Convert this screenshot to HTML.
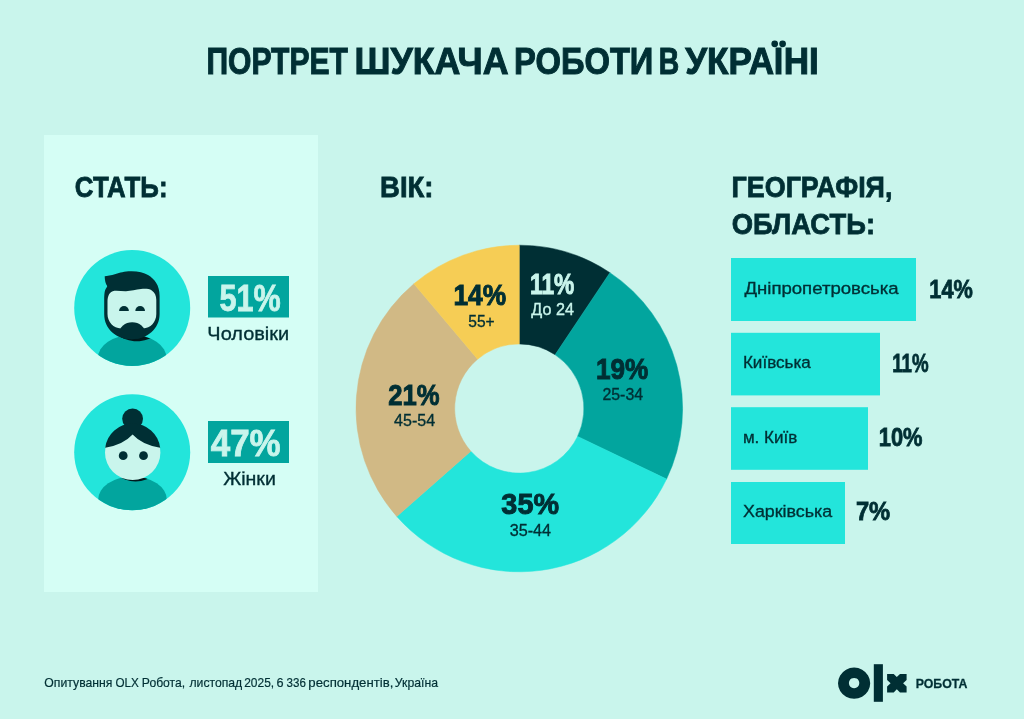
<!DOCTYPE html>
<html><head><meta charset="utf-8">
<style>
html,body{margin:0;padding:0;background:#C9F5EC;}
body{width:1024px;height:719px;overflow:hidden;position:relative;font-family:"Liberation Sans",sans-serif;}
svg{position:absolute;left:0;top:0;display:block;will-change:transform;}
text{font-family:"Liberation Sans",sans-serif;}
.b{font-weight:bold;}
</style></head><body>
<svg width="1024" height="719" viewBox="0 0 1024 719">
<rect x="0" y="0" width="1024" height="719" fill="#C9F5EC"/>
<!-- title -->
<text id="t1" class="b" x="206.43" y="74.02" font-size="36.02" fill="#002F34" stroke="#002F34" stroke-width="1.0" textLength="141.53" lengthAdjust="spacingAndGlyphs">ПОРТРЕТ</text>
<text id="t2" class="b" x="354.43" y="74.02" font-size="36.02" fill="#002F34" stroke="#002F34" stroke-width="1.0" textLength="154.19" lengthAdjust="spacingAndGlyphs">ШУКАЧА</text>
<text id="t3" class="b" x="514.09" y="74.02" font-size="36.02" fill="#002F34" stroke="#002F34" stroke-width="1.0" textLength="139.31" lengthAdjust="spacingAndGlyphs">РОБОТИ</text>
<text id="t4" class="b" x="658.86" y="74.02" font-size="36.02" fill="#002F34" stroke="#002F34" stroke-width="1.0" textLength="20.46" lengthAdjust="spacingAndGlyphs">В</text>
<text id="t5" class="b" x="685.27" y="74.02" font-size="36.02" fill="#002F34" stroke="#002F34" stroke-width="1.0" textLength="88.93" lengthAdjust="spacingAndGlyphs">УКРА</text>
<text id="t6" class="b" x="773.71" y="74.02" font-size="36.02" fill="#002F34" stroke="#002F34" stroke-width="1.0" textLength="9.59" lengthAdjust="spacingAndGlyphs">І</text>
<text id="t7" class="b" x="783.67" y="74.02" font-size="36.02" fill="#002F34" stroke="#002F34" stroke-width="1.0" textLength="35.13" lengthAdjust="spacingAndGlyphs">НІ</text>
<circle cx="774.7" cy="43.85" r="3.35" fill="#002F34"/>
<circle cx="782.6" cy="43.85" r="3.35" fill="#002F34"/>

<!-- left panel -->
<rect x="44" y="135" width="274" height="457" fill="#D5FEF5"/>
<text id="h1" class="b" x="74.87" y="197.02" font-size="30.2" fill="#002F34" stroke="#002F34" stroke-width="0.8" textLength="92.66" lengthAdjust="spacingAndGlyphs">СТАТЬ:</text>

<!-- man avatar -->
<defs>
<clipPath id="c1"><circle cx="132.2" cy="308" r="58"/></clipPath>
<clipPath id="c2"><circle cx="132.2" cy="452.3" r="58"/></clipPath>
<clipPath id="b1"><ellipse cx="132.2" cy="358" rx="34.3" ry="23"/></clipPath>
<clipPath id="b2"><ellipse cx="132.5" cy="499.6" rx="34.3" ry="23"/></clipPath>
</defs>
<circle cx="132.2" cy="308" r="58" fill="#23E5DB"/>
<g clip-path="url(#c1)">
<ellipse cx="132.2" cy="358" rx="34.3" ry="23" fill="#02A59E"/>
</g>
<clipPath id="hd"><path d="M104.7,276.3 C107,276.2 111,275.5 115.6,274.1 C120,272.6 124,271.2 131,271.2 C138,271.1 144,272.5 148,275 C154.5,279 159.6,285 159.6,296 L159.6,314 C159.6,329 147,339.2 131.8,339.2 C116,339.2 104.2,329 104.2,314 L104.2,300 C104.2,293.5 104.8,290.5 105.8,288.8 C106.5,287.6 107.2,286.5 107.2,286 C105.7,284 104.7,280.5 104.7,276.3 Z"/></clipPath>
<g clip-path="url(#b1)"><path d="M109.5,318 C109.5,331 121.5,341.3 136.8,341.3 C152,341.3 164.1,331 164.1,318 Z" fill="#001A1D"/></g>
<path d="M104.7,276.3 C107,276.2 111,275.5 115.6,274.1 C120,272.6 124,271.2 131,271.2 C138,271.1 144,272.5 148,275 C154.5,279 159.6,285 159.6,296 L159.6,314 C159.6,329 147,339.2 131.8,339.2 C116,339.2 104.2,329 104.2,314 L104.2,300 C104.2,293.5 104.8,290.5 105.8,288.8 C106.5,287.6 107.2,286.5 107.2,286 C105.7,284 104.7,280.5 104.7,276.3 Z" fill="#002F34"/>
<path d="M107.5,302 C107.5,296 109.5,291.4 114.4,290.8 C118,290.5 122,291.3 126,291.2 C131,291 136,289.6 141,289 C145,288.6 149,288.7 151.8,290.4 C154.7,292.2 156.3,295.5 156.3,300 L156.3,314 C156.3,322 150.5,328.4 143,328.4 L121,328.4 C113.5,328.4 107.5,322 107.5,314 Z" fill="#C9F5EC"/>
<g clip-path="url(#hd)"><ellipse cx="132.2" cy="333.3" rx="13" ry="11.1" fill="#002F34"/></g>
<path d="M119.1,310.9 A4.9,4.9 0 0 1 128.9,310.9 Z" fill="#002F34"/>
<path d="M135.3,310.9 A4.85,4.85 0 0 1 145,310.9 Z" fill="#002F34"/>

<!-- woman avatar -->
<circle cx="132.2" cy="452.3" r="58" fill="#23E5DB"/>
<g clip-path="url(#c2)">
<ellipse cx="132.5" cy="499.6" rx="34.3" ry="23" fill="#02A59E"/>
</g>
<g clip-path="url(#b2)"><circle cx="135.6" cy="453.9" r="27.7" fill="#001A1D"/></g>
<circle cx="132.6" cy="418.8" r="10.4" fill="#002F34"/>
<circle cx="132.7" cy="452.4" r="27.7" fill="#C9F5EC"/>
<path d="M105.2,447.8 A27.7,27.7 0 0 1 160.2,447.8 Q142,444.8 132.6,434.5 Q123.2,444.8 105.2,447.8 Z" fill="#002F34"/>
<circle cx="123.2" cy="455.7" r="4.4" fill="#002F34"/>
<circle cx="143.5" cy="455.7" r="4.4" fill="#002F34"/>

<!-- percent boxes -->
<rect x="208" y="276" width="81" height="41.5" fill="#02A59E"/>
<text id="p51" class="b" x="219.41" y="310.52" font-size="36.1" fill="#C9F5EC" stroke="#C9F5EC" stroke-width="0.8" textLength="61.20" lengthAdjust="spacingAndGlyphs">51%</text>
<text id="l51" x="207.33" y="339.52" font-size="19.2" fill="#002F34" stroke="#002F34" stroke-width="0.35" textLength="81.87" lengthAdjust="spacingAndGlyphs">Чоловіки</text>
<rect x="208" y="421" width="81" height="42" fill="#02A59E"/>
<text id="p47" class="b" x="210.77" y="455.82" font-size="36.1" fill="#C9F5EC" stroke="#C9F5EC" stroke-width="0.8" textLength="69.93" lengthAdjust="spacingAndGlyphs">47%</text>
<text id="l47" x="223.16" y="484.70" font-size="19.2" fill="#002F34" stroke="#002F34" stroke-width="0.35" textLength="52.67" lengthAdjust="spacingAndGlyphs">Жінки</text>

<!-- age heading -->
<text id="h2" class="b" x="380.12" y="197.02" font-size="30.2" fill="#002F34" stroke="#002F34" stroke-width="0.8" textLength="53.42" lengthAdjust="spacingAndGlyphs">ВІК:</text>

<!-- geo heading -->
<text id="h3a" class="b" x="731.56" y="196.72" font-size="30.2" fill="#002F34" stroke="#002F34" stroke-width="0.8" textLength="160.85" lengthAdjust="spacingAndGlyphs">ГЕОГРАФІЯ,</text>
<text id="h3b" class="b" x="731.76" y="233.82" font-size="30.2" fill="#002F34" stroke="#002F34" stroke-width="0.8" textLength="143.27" lengthAdjust="spacingAndGlyphs">ОБЛАСТЬ:</text>

<!-- bars -->
<rect x="731" y="258" width="185" height="63" fill="#23E5DB"/>
<rect x="731" y="332.8" width="149" height="62.6" fill="#23E5DB"/>
<rect x="731" y="407.2" width="137" height="62.6" fill="#23E5DB"/>
<rect x="731" y="482" width="114" height="62" fill="#23E5DB"/>
<text id="g1" x="744.43" y="293.75" font-size="17.1" fill="#002F34" stroke="#002F34" stroke-width="0.35" textLength="154.14" lengthAdjust="spacingAndGlyphs">Дніпропетровська</text>
<text id="g2" x="742.91" y="368.30" font-size="17.1" fill="#002F34" stroke="#002F34" stroke-width="0.35" textLength="67.91" lengthAdjust="spacingAndGlyphs">Київська</text>
<text id="g3" x="742.90" y="442.80" font-size="17.1" fill="#002F34" stroke="#002F34" stroke-width="0.35" textLength="54.33" lengthAdjust="spacingAndGlyphs">м. Київ</text>
<text id="g4" x="743.01" y="517.30" font-size="17.1" fill="#002F34" stroke="#002F34" stroke-width="0.35" textLength="89.12" lengthAdjust="spacingAndGlyphs">Харківська</text>
<text id="v1" class="b" x="929.36" y="297.52" font-size="25.2" fill="#002F34" stroke="#002F34" stroke-width="0.8" textLength="43.49" lengthAdjust="spacingAndGlyphs">14%</text>
<text id="v2" class="b" x="892.15" y="371.92" font-size="25.2" fill="#002F34" stroke="#002F34" stroke-width="0.8" textLength="36.40" lengthAdjust="spacingAndGlyphs">11%</text>
<text id="v3" class="b" x="878.75" y="446.22" font-size="25.2" fill="#002F34" stroke="#002F34" stroke-width="0.8" textLength="43.79" lengthAdjust="spacingAndGlyphs">10%</text>
<text id="v4" class="b" x="855.91" y="520.22" font-size="25.2" fill="#002F34" stroke="#002F34" stroke-width="0.8" textLength="34.28" lengthAdjust="spacingAndGlyphs">7%</text>

<!-- donut -->
<g id="donut">
<path d="M519.30,245.20 A163.3,163.3 0 0 1 609.91,272.64 L555.14,354.76 A64.6,64.6 0 0 0 519.30,343.90 Z" fill="#002F34" stroke="#002F34" stroke-width="0.5" stroke-linejoin="round"/>
<path d="M609.91,272.64 A163.3,163.3 0 0 1 666.57,479.06 L577.56,436.41 A64.6,64.6 0 0 0 555.14,354.76 Z" fill="#02A59E" stroke="#02A59E" stroke-width="0.5" stroke-linejoin="round"/>
<path d="M666.57,479.06 A163.3,163.3 0 0 1 396.81,516.49 L470.84,451.22 A64.6,64.6 0 0 0 577.56,436.41 Z" fill="#23E5DB" stroke="#23E5DB" stroke-width="0.5" stroke-linejoin="round"/>
<path d="M396.81,516.49 A163.3,163.3 0 0 1 413.90,283.77 L477.60,359.16 A64.6,64.6 0 0 0 470.84,451.22 Z" fill="#D1B985" stroke="#D1B985" stroke-width="0.5" stroke-linejoin="round"/>
<path d="M413.90,283.77 A163.3,163.3 0 0 1 519.30,245.20 L519.30,343.90 A64.6,64.6 0 0 0 477.60,359.16 Z" fill="#F6CD55" stroke="#F6CD55" stroke-width="0.5" stroke-linejoin="round"/>
</g>

<text id="d11" class="b" x="530.04" y="294.22" font-size="30.3" fill="#C9F5EC" stroke="#C9F5EC" stroke-width="1.0" textLength="44.30" lengthAdjust="spacingAndGlyphs">11%</text>
<text id="d11s" x="531.35" y="315.20" font-size="16.5" fill="#C9F5EC" stroke="#C9F5EC" stroke-width="0.35" textLength="42.57" lengthAdjust="spacingAndGlyphs">До 24</text>
<text id="d14" class="b" x="453.44" y="304.92" font-size="30.3" fill="#002F34" stroke="#002F34" stroke-width="1.0" textLength="52.68" lengthAdjust="spacingAndGlyphs">14%</text>
<text id="d14s" x="468.31" y="327.00" font-size="16.5" fill="#002F34" stroke="#002F34" stroke-width="0.35" textLength="26.41" lengthAdjust="spacingAndGlyphs">55+</text>
<text id="d19" class="b" x="595.91" y="378.82" font-size="30.3" fill="#002F34" stroke="#002F34" stroke-width="1.0" textLength="52.41" lengthAdjust="spacingAndGlyphs">19%</text>
<text id="d19s" x="602.42" y="399.90" font-size="16.5" fill="#002F34" stroke="#002F34" stroke-width="0.35" textLength="40.66" lengthAdjust="spacingAndGlyphs">25-34</text>
<text id="d21" class="b" x="388.27" y="404.52" font-size="30.3" fill="#002F34" stroke="#002F34" stroke-width="1.0" textLength="51.32" lengthAdjust="spacingAndGlyphs">21%</text>
<text id="d21s" x="394.12" y="426.30" font-size="16.5" fill="#002F34" stroke="#002F34" stroke-width="0.35" textLength="41.07" lengthAdjust="spacingAndGlyphs">45-54</text>
<text id="d35" class="b" x="501.37" y="513.92" font-size="30.3" fill="#002F34" stroke="#002F34" stroke-width="1.0" textLength="57.64" lengthAdjust="spacingAndGlyphs">35%</text>
<text id="d35s" x="509.72" y="535.60" font-size="16.5" fill="#002F34" stroke="#002F34" stroke-width="0.35" textLength="41.38" lengthAdjust="spacingAndGlyphs">35-44</text>

<!-- footer -->
<text id="f1" x="44.33" y="686.50" font-size="13.48" fill="#002F34" stroke="#002F34" stroke-width="0.2" textLength="68.15" lengthAdjust="spacingAndGlyphs">Опитування</text>
<text id="f2" x="115.52" y="686.50" font-size="13.48" fill="#002F34" stroke="#002F34" stroke-width="0.2" textLength="23.37" lengthAdjust="spacingAndGlyphs">OLX</text>
<text id="f3" x="141.84" y="686.50" font-size="13.48" fill="#002F34" stroke="#002F34" stroke-width="0.2" textLength="43.36" lengthAdjust="spacingAndGlyphs">Робота,</text>
<text id="f4" x="189.46" y="686.50" font-size="13.48" fill="#002F34" stroke="#002F34" stroke-width="0.2" textLength="52.80" lengthAdjust="spacingAndGlyphs">листопад</text>
<text id="f5" x="244.20" y="686.50" font-size="13.48" fill="#002F34" stroke="#002F34" stroke-width="0.2" textLength="29.92" lengthAdjust="spacingAndGlyphs">2025,</text>
<text id="f6" x="276.59" y="686.50" font-size="13.48" fill="#002F34" stroke="#002F34" stroke-width="0.2" textLength="7.07" lengthAdjust="spacingAndGlyphs">6</text>
<text id="f7" x="286.54" y="686.50" font-size="13.48" fill="#002F34" stroke="#002F34" stroke-width="0.2" textLength="19.29" lengthAdjust="spacingAndGlyphs">336</text>
<text id="f8" x="308.36" y="686.50" font-size="13.48" fill="#002F34" stroke="#002F34" stroke-width="0.2" textLength="85.00" lengthAdjust="spacingAndGlyphs">респондентів,</text>
<text id="f9" x="394.81" y="686.50" font-size="13.48" fill="#002F34" stroke="#002F34" stroke-width="0.2" textLength="43.23" lengthAdjust="spacingAndGlyphs">Україна</text>

<!-- logo -->
<path d="M854.1,667.6 a16.1,15.6 0 1 0 0.01,0 Z M854.1,677.9 a5.2,5.2 0 1 1 -0.01,0 Z" fill="#002F34" fill-rule="evenodd"/>
<rect x="873.8" y="664.2" width="9.1" height="37.6" fill="#002F34"/>
<path d="M887.1,674 L893.7,674 L896.8,677.1 L900,674 L906.6,674 L906.6,680 L903.1,683.2 L906.6,686.5 L906.6,692.4 L900,692.4 L896.8,689.3 L893.7,692.4 L887.1,692.4 L887.1,686.5 L890.6,683.2 L887.1,680 Z" fill="#002F34"/>
<text id="robota" class="b" x="915.71" y="688.45" font-size="13.37" fill="#002F34" stroke="#002F34" stroke-width="0.3" textLength="51.80" lengthAdjust="spacingAndGlyphs">РОБОТА</text>
</svg>
</body></html>
